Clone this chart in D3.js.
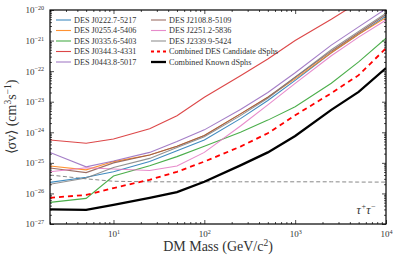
<!DOCTYPE html>
<meta charset="utf-8">
<script src="https://cdn.jsdelivr.net/npm/d3@7"></script>
<style>
  body { margin: 0; background: #fff; }
  text { font-family: "Liberation Serif", serif; }
</style>
<div id="js_chart"></div>
<script>
// masses (GeV/c^2)
const masses = [2, 5, 10, 25, 50, 100, 250, 500, 1000, 2500, 5000, 10000];

// upper limits on <sigma v> (cm^3 s^-1)
const j0222 = [2.3e-26, 3.4e-26, 5.1e-26, 1.1e-25, 2.5e-25, 5.6e-25, 2.8e-24, 1.1e-23, 5.0e-23, 4.0e-22, 1.6e-21, 6.3e-21];
const j0255 = [7.9e-26, 5.9e-26, 1.1e-25, 1.8e-25, 3.5e-25, 7.9e-25, 4.0e-24, 1.4e-23, 5.6e-23, 4.0e-22, 1.6e-21, 5.6e-21];
const j0335 = [5.1e-27, 6.9e-27, 3.7e-26, 8.1e-26, 1.6e-25, 3.5e-25, 1.0e-24, 2.5e-24, 6.8e-24, 4.0e-23, 2.0e-22, 1.2e-21];
const j0344 = [5.6e-25, 4.4e-25, 6.0e-25, 1.3e-24, 3.5e-24, 1.4e-23, 7.1e-23, 2.5e-22, 1.0e-21, 5.0e-21, 1.8e-20, 6.3e-20];
const j0443 = [2.2e-25, 7.4e-26, 1.15e-25, 2.2e-25, 5.0e-25, 1.2e-24, 5.6e-24, 2.0e-23, 8.9e-23, 7.1e-22, 2.8e-21, 1.1e-20];
const j2108 = [6.8e-26, 4.8e-26, 1.0e-25, 1.8e-25, 3.5e-25, 7.9e-25, 4.0e-24, 1.4e-23, 6.3e-23, 4.5e-22, 1.8e-21, 7.1e-21];
const j2251 = [5.1e-26, 6.9e-26, 6.3e-26, 5.6e-26, 7.9e-26, 2.2e-25, 1.6e-24, 7.9e-24, 4.0e-23, 3.2e-22, 1.3e-21, 4.7e-21];
const j2339 = [2.0e-26, 3.2e-26, 7.1e-26, 1.4e-25, 3.2e-25, 7.1e-25, 3.5e-24, 1.3e-23, 6.3e-23, 5.0e-22, 2.0e-21, 7.9e-21];
const combinedDES = [7.2e-27, 8.9e-27, 1.5e-26, 2.8e-26, 5.1e-26, 1.1e-25, 3.4e-25, 9.3e-25, 3.6e-24, 1.9e-23, 7.4e-23, 5.6e-22];
const combinedKnown = [3.0e-27, 2.9e-27, 4.2e-27, 7.1e-27, 1.1e-26, 2.4e-26, 8.3e-26, 2.2e-25, 7.6e-25, 5.4e-24, 2.1e-23, 1.26e-22];
const thermal = [4.0e-26, 3.0e-26, 2.5e-26, 2.4e-26, 2.4e-26, 2.4e-26, 2.4e-26, 2.4e-26, 2.4e-26, 2.4e-26, 2.35e-26, 2.35e-26];

const seriesNames = ["DES J0222.7-5217", "DES J0255.4-5406", "DES J0335.6-5403", "DES J0344.3-4331",
                     "DES J0443.8-5017", "DES J2108.8-5109", "DES J2251.2-5836", "DES J2339.9-5424",
                     "Combined DES Candidate dSphs", "Combined Known dSphs"];
const seriesValues = [j0222, j0255, j0335, j0344, j0443, j2108, j2251, j2339, combinedDES, combinedKnown];
const seriesColors = ["#1f77b4", "#ff7f0e", "#2ca02c", "#d62728", "#9467bd", "#8c564b", "#e377c2", "#7f7f7f", "#ff0000", "#000000"];

const xMajor = [10, 100, 1000, 10000];
const yMajor = [1e-27, 1e-26, 1e-25, 1e-24, 1e-23, 1e-22, 1e-21, 1e-20];

// ******************************************************
const width = 399, height = 261;
const plot = {left: 50, right: 386, top: 10, bottom: 224};

const x = d3.scaleLog().domain([2, 1e4]).range([plot.left, plot.right]);
const y = d3.scaleLog().domain([1e-27, 1e-20]).range([plot.bottom, plot.top]);

const svg = d3.select("#js_chart").append("svg")
    .attr("width", width).attr("height", height);

svg.append("clipPath").attr("id", "clip")
    .append("rect")
    .attr("x", plot.left).attr("y", plot.top)
    .attr("width", plot.right - plot.left).attr("height", plot.bottom - plot.top);

// minor tick values
let xMinor = [], yMinor = [];
for (let e = 0; e < 4; e++) for (let m = 2; m <= 9; m++) {
    let v = m * Math.pow(10, e);
    if (v >= 2 && v <= 1e4 && !xMajor.includes(v)) xMinor.push(v);
}
for (let e = -27; e < -20; e++) for (let m = 2; m <= 9; m++) yMinor.push(m * Math.pow(10, e));

function supLabels(sel) {
    sel.selectAll(".tick text").each(function (d) {
        const t = d3.select(this);
        const ex = Math.round(Math.log10(d));
        t.text(null);
        t.append("tspan").text("10");
        t.append("tspan").attr("dy", "-0.55em").attr("font-size", "0.68em")
            .text(ex < 0 ? "\u2212" + (-ex) : ex);
    });
}

function styleAxis(g) {
    g.select(".domain").remove();
    g.selectAll(".tick line").attr("stroke", "#000").attr("stroke-width", 0.7);
    g.selectAll(".tick text").attr("font-size", 9).attr("fill", "#333");
}

// bottom axis
svg.append("g").attr("transform", "translate(0," + plot.bottom + ")")
    .call(d3.axisBottom(x).tickValues(xMajor).tickSizeInner(-4).tickSizeOuter(0).tickPadding(7))
    .call(styleAxis).call(supLabels);
svg.append("g").attr("transform", "translate(0," + plot.bottom + ")")
    .call(d3.axisBottom(x).tickValues(xMinor).tickSizeInner(-2).tickSizeOuter(0).tickFormat(""))
    .call(styleAxis);
// top axis
svg.append("g").attr("transform", "translate(0," + plot.top + ")")
    .call(d3.axisTop(x).tickValues(xMajor).tickSizeInner(-4).tickSizeOuter(0).tickFormat(""))
    .call(styleAxis);
svg.append("g").attr("transform", "translate(0," + plot.top + ")")
    .call(d3.axisTop(x).tickValues(xMinor).tickSizeInner(-2).tickSizeOuter(0).tickFormat(""))
    .call(styleAxis);
// left axis
svg.append("g").attr("transform", "translate(" + plot.left + ",0)")
    .call(d3.axisLeft(y).tickValues(yMajor).tickSizeInner(-4).tickSizeOuter(0).tickPadding(6))
    .call(styleAxis).call(supLabels);
svg.append("g").attr("transform", "translate(" + plot.left + ",0)")
    .call(d3.axisLeft(y).tickValues(yMinor).tickSizeInner(-2).tickSizeOuter(0).tickFormat(""))
    .call(styleAxis);
// right axis
svg.append("g").attr("transform", "translate(" + plot.right + ",0)")
    .call(d3.axisRight(y).tickValues(yMajor).tickSizeInner(-4).tickSizeOuter(0).tickFormat(""))
    .call(styleAxis);
svg.append("g").attr("transform", "translate(" + plot.right + ",0)")
    .call(d3.axisRight(y).tickValues(yMinor).tickSizeInner(-2).tickSizeOuter(0).tickFormat(""))
    .call(styleAxis);

// lines
const line = d3.line().x(function (d) { return x(d[0]); }).y(function (d) { return y(d[1]); });
const gLines = svg.append("g").attr("clip-path", "url(#clip)");

gLines.append("path")
    .attr("d", line(d3.zip(masses, thermal)))
    .attr("fill", "none").attr("stroke", "#888").attr("stroke-width", 1)
    .attr("stroke-dasharray", "4,2.5");

seriesValues.forEach(function (vals, i) {
    const p = gLines.append("path")
        .attr("d", line(d3.zip(masses, vals)))
        .attr("fill", "none")
        .attr("stroke", seriesColors[i]);
    if (i < 8) p.attr("stroke-width", 1.1).attr("stroke-opacity", 0.85);
    else if (i === 8) p.attr("stroke-width", 1.8).attr("stroke-dasharray", "5,4");
    else p.attr("stroke-width", 2.3);
});

// frame
svg.append("rect")
    .attr("x", plot.left).attr("y", plot.top)
    .attr("width", plot.right - plot.left).attr("height", plot.bottom - plot.top)
    .attr("fill", "none").attr("stroke", "#000").attr("stroke-width", 1.2);

// legend
const legend = svg.append("g");
seriesNames.forEach(function (name, i) {
    const col = i < 5 ? 0 : 1;
    const row = i % 5;
    const lx = col === 0 ? 56 : 151;
    const ly = 20 + row * 10.5;
    const l = legend.append("line")
        .attr("x1", lx).attr("x2", lx + 15).attr("y1", ly).attr("y2", ly)
        .attr("stroke", seriesColors[i]);
    if (i < 8) l.attr("stroke-width", 1.1).attr("stroke-opacity", 0.85);
    else if (i === 8) l.attr("stroke-width", 1.8).attr("stroke-dasharray", "3,3");
    else l.attr("stroke-width", 2.3);
    legend.append("text")
        .attr("x", lx + 18).attr("y", ly + 2.8)
        .attr("font-size", 8.2).attr("fill", "#333")
        .text(name);
});

// annotation
svg.append("text")
    .attr("x", 376).attr("y", 214).attr("text-anchor", "end")
    .attr("font-size", 12).attr("font-style", "italic").attr("fill", "#333")
    .html("\u03c4<tspan dy='-5' font-size='8'>+</tspan><tspan dy='5'>\u03c4</tspan><tspan dy='-5' font-size='8'>\u2212</tspan>");

// axis labels
svg.append("text")
    .attr("x", (plot.left + plot.right) / 2).attr("y", 251)
    .attr("text-anchor", "middle").attr("font-size", 14).attr("fill", "#333")
    .html("DM Mass (GeV/c<tspan dy='-5' font-size='9.5'>2</tspan><tspan dy='5'>)</tspan>");

svg.append("text")
    .attr("transform", "translate(16," + ((plot.top + plot.bottom) / 2) + ") rotate(-90)")
    .attr("text-anchor", "middle").attr("font-size", 14).attr("fill", "#333")
    .html("\u27e8\u03c3v\u27e9 (cm<tspan dy='-5' font-size='9.5'>3</tspan><tspan dy='5'>s</tspan><tspan dy='-5' font-size='9.5'>\u22121</tspan><tspan dy='5'>)</tspan>");
</script>
